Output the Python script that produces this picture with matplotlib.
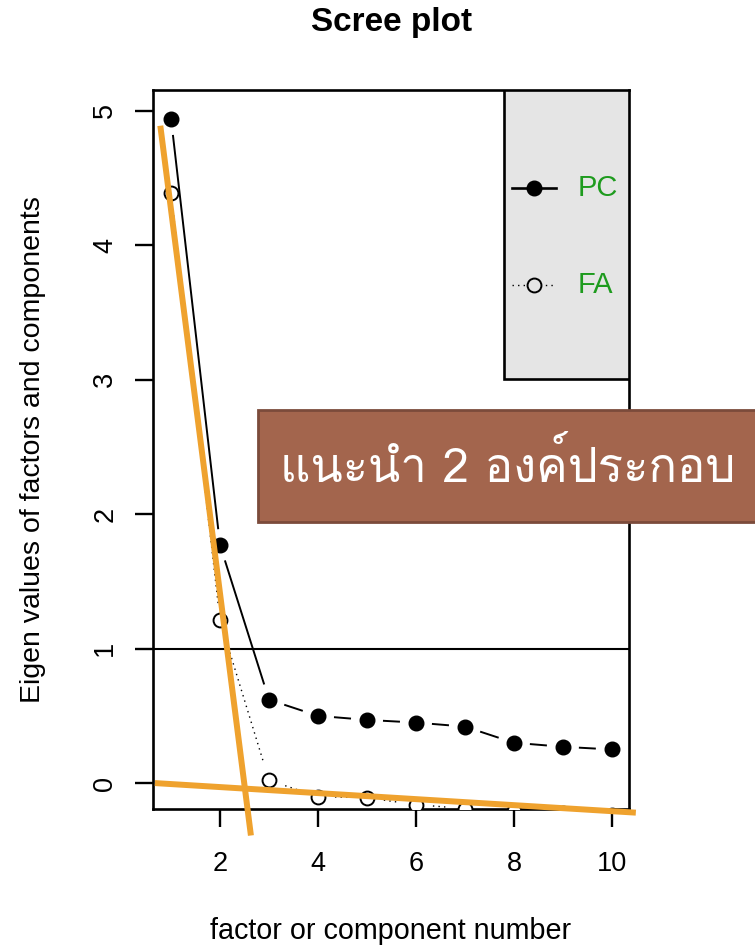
import numpy as np
import matplotlib
matplotlib.use("Agg")
import matplotlib.pyplot as plt
from matplotlib import font_manager
from matplotlib.ft2font import FT2Font
from matplotlib.patches import Rectangle

# eigenvalues for the first ten principal components / factors
factor_no = np.arange(1, 11)
pc_eigen = [4.94, 1.77, 0.62, 0.50, 0.47, 0.45, 0.42, 0.30, 0.27, 0.25]
fa_eigen = [4.39, 1.21, 0.02, -0.10, -0.11, -0.16, -0.19, -0.21, -0.22, -0.24]

x_ticks = [2, 4, 6, 8, 10]
y_ticks = [0, 1, 2, 3, 4, 5]
legend_labels = ["PC", "FA"]
kaiser_cut = 1.0

# hand-drawn elbow guides (x pair, y pair)
elbow_steep_x = [0.78, 2.63]
elbow_steep_y = [4.89, -0.39]
elbow_flat_x = [0.67, 10.49]
elbow_flat_y = [0.0, -0.22]

note_text = "แนะนำ 2 องค์ประกอบ"

ORANGE = "#EFA22E"
LEGEND_GREEN = "#1E9B1E"

plt.rcParams["font.family"] = ["Liberation Sans", "DejaVu Sans"]


def thai_family():
    for f in font_manager.fontManager.ttflist:
        try:
            if 0x0E41 in FT2Font(f.fname).get_charmap():
                return f.name
        except Exception:
            pass
    return "DejaVu Sans"


def gapped_segments(ax, xs, ys, gap_px):
    """Segments between points, trimmed near each point like R's type='b'."""
    pts = ax.transData.transform(np.column_stack([xs, ys]))
    inv = ax.transData.inverted()
    segs = []
    for p0, p1 in zip(pts[:-1], pts[1:]):
        d = p1 - p0
        length = np.hypot(*d)
        if length <= 2 * gap_px:
            continue
        u = d / length
        segs.append(inv.transform(np.array([p0 + u * gap_px, p1 - u * gap_px])))
    return segs


fig = plt.figure(figsize=(7.55, 9.47), dpi=100)
ax = fig.add_axes([0.2026, 0.1457, 0.6305, 0.7593])
ax.set_xlim(0.63, 10.35)
ax.set_ylim(-0.193, 5.156)

# type="b" style lines: segments with gaps, then the points on top
for seg in gapped_segments(ax, factor_no, pc_eigen, 17):
    ax.plot(seg[:, 0], seg[:, 1], color="black", lw=1.4, zorder=2)
for seg in gapped_segments(ax, factor_no, fa_eigen, 17):
    ax.plot(seg[:, 0], seg[:, 1], color="black", lw=1.0,
            linestyle=(0, (1, 3)), zorder=2)
ax.plot(factor_no, pc_eigen, "o", color="black", ms=10.5, zorder=3)
ax.plot(factor_no, fa_eigen, "o", mfc="white", mec="black", mew=1.4,
        ms=10, zorder=3)

ax.axhline(kaiser_cut, color="black", lw=1.5, zorder=2)

ax.set_xticks(x_ticks)
ax.set_yticks(y_ticks)
ax.tick_params(direction="out", length=13, width=1.7, labelsize=19.5)
ax.tick_params(axis="x", pad=17)
ax.tick_params(axis="y", pad=12)
for lab in ax.get_yticklabels():
    lab.set_rotation(90)
    lab.set_va("center")
for sp in ax.spines.values():
    sp.set_linewidth(1.9)

ax.set_xlabel("factor or component number", fontsize=20.7)
ax.set_ylabel("Eigen values of factors and components", fontsize=20.5)
ax.xaxis.set_label_coords(0.5, -0.150)
ax.yaxis.set_label_coords(-0.224, 0.5)

# legend panel in the upper right corner
ax.add_patch(Rectangle((0.737, 0.598), 0.263, 0.402, transform=ax.transAxes,
                       facecolor="#E5E5E5", edgecolor="black", lw=1.9,
                       zorder=4))
ax.plot([0.754, 0.847], [0.864, 0.864], transform=ax.transAxes,
        color="black", lw=1.9, zorder=5)
ax.plot([0.800], [0.864], "o", transform=ax.transAxes, color="black",
        ms=10.5, zorder=6)
ax.plot([0.754, 0.847], [0.729, 0.729], transform=ax.transAxes,
        color="black", lw=1.0, linestyle=(0, (1, 3)), zorder=5)
ax.plot([0.800], [0.729], "o", transform=ax.transAxes, mfc="#E5E5E5",
        mec="black", mew=1.4, ms=10, zorder=6)
ax.text(0.893, 0.864, legend_labels[0], transform=ax.transAxes,
        color=LEGEND_GREEN, fontsize=21, va="center", zorder=6)
ax.text(0.893, 0.729, legend_labels[1], transform=ax.transAxes,
        color=LEGEND_GREEN, fontsize=21, va="center", zorder=6)

# elbow guides drawn over the plot
ax.plot(elbow_steep_x, elbow_steep_y, color=ORANGE, lw=4.3,
        solid_capstyle="butt", clip_on=False, zorder=7)
ax.plot(elbow_flat_x, elbow_flat_y, color=ORANGE, lw=4.3,
        solid_capstyle="butt", clip_on=False, zorder=7)

fig.text(0.519, 1 - 22 / 947, "Scree plot", fontsize=24, fontweight="bold",
         ha="center", va="center")

# callout box
fig.patches.append(Rectangle((258 / 755, 1 - 522 / 947), 0.67, 112 / 947,
                             transform=fig.transFigure, facecolor="#A3654D",
                             edgecolor="#7B4B3B", lw=2, zorder=10))
fig.text(508 / 755, 1 - 466 / 947, note_text, family=[thai_family(), "DejaVu Sans"],
         fontsize=34, fontweight="light", color="white", ha="center",
         va="center", zorder=11)

fig.savefig("out.png", dpi=100)
